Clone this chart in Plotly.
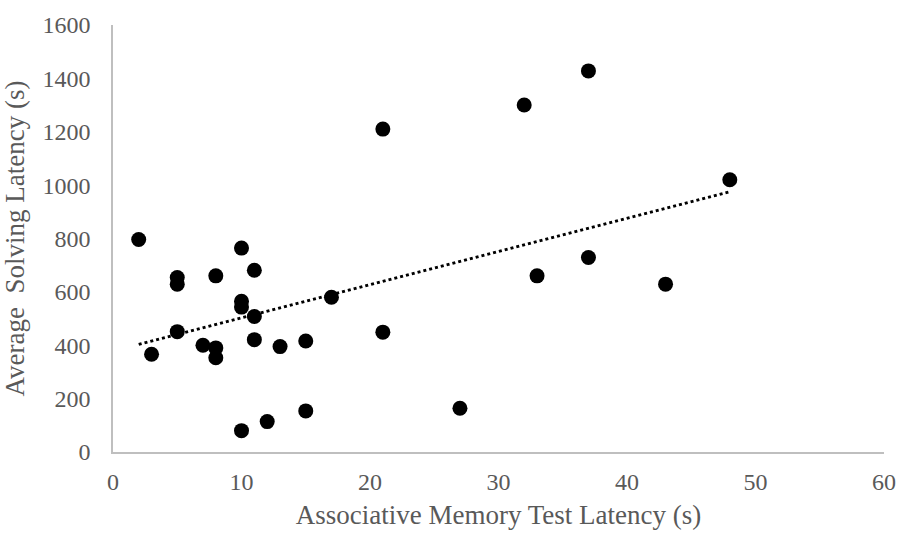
import numpy as np
import plotly.graph_objects as go

# Associative memory test latency (s) vs. average solving latency (s)
memory_latency = [2, 3, 5, 5, 5, 7, 8, 8, 8, 10, 10, 10, 10, 11, 11, 11, 12, 13,
                  15, 15, 17, 21, 21, 27, 32, 33, 37, 37, 43, 48]
solving_latency = [796, 366, 654, 629, 451, 400, 660, 390, 353, 764, 565, 543, 80,
                   681, 508, 421, 114, 395, 416, 154, 580, 1210, 449, 164, 1300,
                   660, 1428, 729, 629, 1020]

x_ticks = [0, 10, 20, 30, 40, 50, 60]
y_ticks = [0, 200, 400, 600, 800, 1000, 1200, 1400, 1600]

# Least-squares linear trend over the observed x range
slope, intercept = np.polyfit(memory_latency, solving_latency, 1)
trend_x = [min(memory_latency), max(memory_latency)]
trend_y = [slope * v + intercept for v in trend_x]

font_family = "Liberation Serif, Times New Roman, serif"
grey = "#595959"

fig = go.Figure()
fig.add_trace(go.Scatter(
    x=trend_x, y=trend_y, mode="lines",
    line=dict(color="black", width=3, dash="dot"),
    hoverinfo="skip", showlegend=False,
))
fig.add_trace(go.Scatter(
    x=memory_latency, y=solving_latency, mode="markers",
    marker=dict(color="black", size=15, line=dict(width=0)),
    showlegend=False,
))

fig.update_layout(
    width=908, height=537,
    margin=dict(l=112, r=16, t=18, b=83),
    paper_bgcolor="white", plot_bgcolor="white",
    font=dict(family=font_family, size=24, color=grey),
    xaxis=dict(
        range=[0, 60], tickvals=x_ticks, showgrid=False, zeroline=False,
        showline=True, linecolor="#bfbfbf", linewidth=1.5, ticks="",
        ticklabelstandoff=7,
        tickfont=dict(size=24, color=grey),
        title=dict(text="Associative Memory Test Latency (s)",
                   font=dict(size=27, color=grey), standoff=12),
    ),
    yaxis=dict(
        range=[0, 1600], tickvals=y_ticks, showgrid=False, zeroline=False,
        showline=True, linecolor="#bfbfbf", linewidth=1.5, ticks="",
        ticklabelstandoff=16,
        tickfont=dict(size=24, color=grey),
        title=dict(text="Average  Solving Latency (s)",
                   font=dict(size=27, color=grey), standoff=12),
    ),
)

fig.write_html("out.html")
